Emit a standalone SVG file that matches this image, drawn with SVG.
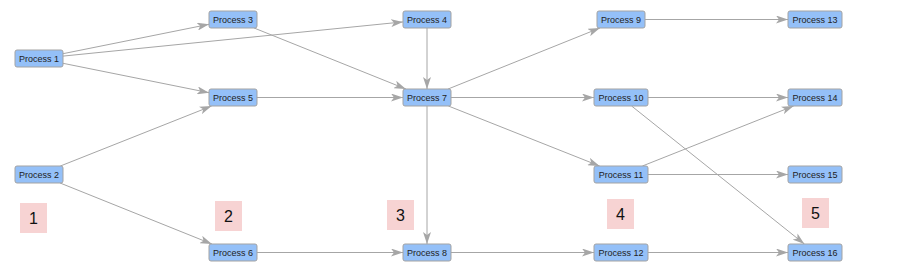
<svg xmlns="http://www.w3.org/2000/svg" width="910" height="274" viewBox="0 0 910 274">
<style>
.node rect{fill:#94c0f8;stroke:#a3a3a3;stroke-width:1}
.node text{font-family:"Liberation Sans",Arial,sans-serif;font-size:9px;fill:#222;text-anchor:middle}
.lane rect{fill:#f7d3d3}
.lane text{font-family:"Liberation Sans",Arial,sans-serif;font-size:16px;fill:#111;text-anchor:middle}
#edges line{stroke:#a6a6a6;stroke-width:1;fill:none;marker-end:url(#arr)}
</style>
<defs>
<marker id="arr" viewBox="0 0 12 8" refX="12" refY="4" markerWidth="12" markerHeight="8" markerUnits="userSpaceOnUse" orient="auto">
<path d="M0,0 L12,4 L0,8 L3,4 z" fill="#a6a6a6"/>
</marker>
</defs>
<rect width="910" height="274" fill="#fff"/>
<g id="lanes" class="lane">
<g id="lane1"><rect x="20" y="203" width="27" height="30"/><text x="33.5" y="224">1</text></g>
<g id="lane2"><rect x="215" y="201" width="27" height="30"/><text x="228.5" y="222">2</text></g>
<g id="lane3"><rect x="387" y="200" width="27" height="30"/><text x="400.5" y="221">3</text></g>
<g id="lane4"><rect x="607" y="199" width="27" height="30"/><text x="620.5" y="220">4</text></g>
<g id="lane5"><rect x="802" y="198" width="27" height="30"/><text x="815.5" y="219">5</text></g>
</g>
<g id="edges">
<line x1="63" y1="53.7" x2="209" y2="24.3"/>
<line x1="63" y1="56.1" x2="403" y2="21.9"/>
<line x1="63" y1="63.3" x2="209" y2="92.7"/>
<line x1="60.4" y1="166" x2="211.6" y2="106"/>
<line x1="60.1" y1="183" x2="211.9" y2="244"/>
<line x1="254.1" y1="28" x2="405.9" y2="89"/>
<line x1="427" y1="28" x2="427" y2="89"/>
<line x1="257" y1="97.5" x2="403" y2="97.5"/>
<line x1="257" y1="252.5" x2="403" y2="252.5"/>
<line x1="427" y1="106" x2="427" y2="244"/>
<line x1="448.1" y1="89" x2="599.9" y2="28"/>
<line x1="451" y1="97.5" x2="594" y2="97.5"/>
<line x1="448.4" y1="106" x2="599.6" y2="166"/>
<line x1="451" y1="252.5" x2="594" y2="252.5"/>
<line x1="645" y1="19.5" x2="788" y2="19.5"/>
<line x1="648" y1="97.5" x2="788" y2="97.5"/>
<line x1="631.6" y1="106" x2="804.4" y2="244"/>
<line x1="642.4" y1="166" x2="793.6" y2="106"/>
<line x1="648" y1="174.5" x2="788" y2="174.5"/>
<line x1="648" y1="252.5" x2="788" y2="252.5"/>
</g>
<g id="p1" class="node"><rect x="15" y="50" width="48" height="17" rx="2"/><text x="39" y="61.7">Process 1</text></g>
<g id="p2" class="node"><rect x="15" y="166" width="48" height="17" rx="2"/><text x="39" y="177.7">Process 2</text></g>
<g id="p3" class="node"><rect x="209" y="11" width="48" height="17" rx="2"/><text x="233" y="22.7">Process 3</text></g>
<g id="p5" class="node"><rect x="209" y="89" width="48" height="17" rx="2"/><text x="233" y="100.7">Process 5</text></g>
<g id="p6" class="node"><rect x="209" y="244" width="48" height="17" rx="2"/><text x="233" y="255.7">Process 6</text></g>
<g id="p4" class="node"><rect x="403" y="11" width="48" height="17" rx="2"/><text x="427" y="22.7">Process 4</text></g>
<g id="p7" class="node"><rect x="403" y="89" width="48" height="17" rx="2"/><text x="427" y="100.7">Process 7</text></g>
<g id="p8" class="node"><rect x="403" y="244" width="48" height="17" rx="2"/><text x="427" y="255.7">Process 8</text></g>
<g id="p9" class="node"><rect x="597" y="11" width="48" height="17" rx="2"/><text x="621" y="22.7">Process 9</text></g>
<g id="p10" class="node"><rect x="594" y="89" width="54" height="17" rx="2"/><text x="621" y="100.7">Process 10</text></g>
<g id="p11" class="node"><rect x="594" y="166" width="54" height="17" rx="2"/><text x="621" y="177.7">Process 11</text></g>
<g id="p12" class="node"><rect x="594" y="244" width="54" height="17" rx="2"/><text x="621" y="255.7">Process 12</text></g>
<g id="p13" class="node"><rect x="788" y="11" width="54" height="17" rx="2"/><text x="815" y="22.7">Process 13</text></g>
<g id="p14" class="node"><rect x="788" y="89" width="54" height="17" rx="2"/><text x="815" y="100.7">Process 14</text></g>
<g id="p15" class="node"><rect x="788" y="166" width="54" height="17" rx="2"/><text x="815" y="177.7">Process 15</text></g>
<g id="p16" class="node"><rect x="788" y="244" width="54" height="17" rx="2"/><text x="815" y="255.7">Process 16</text></g>
</svg>
